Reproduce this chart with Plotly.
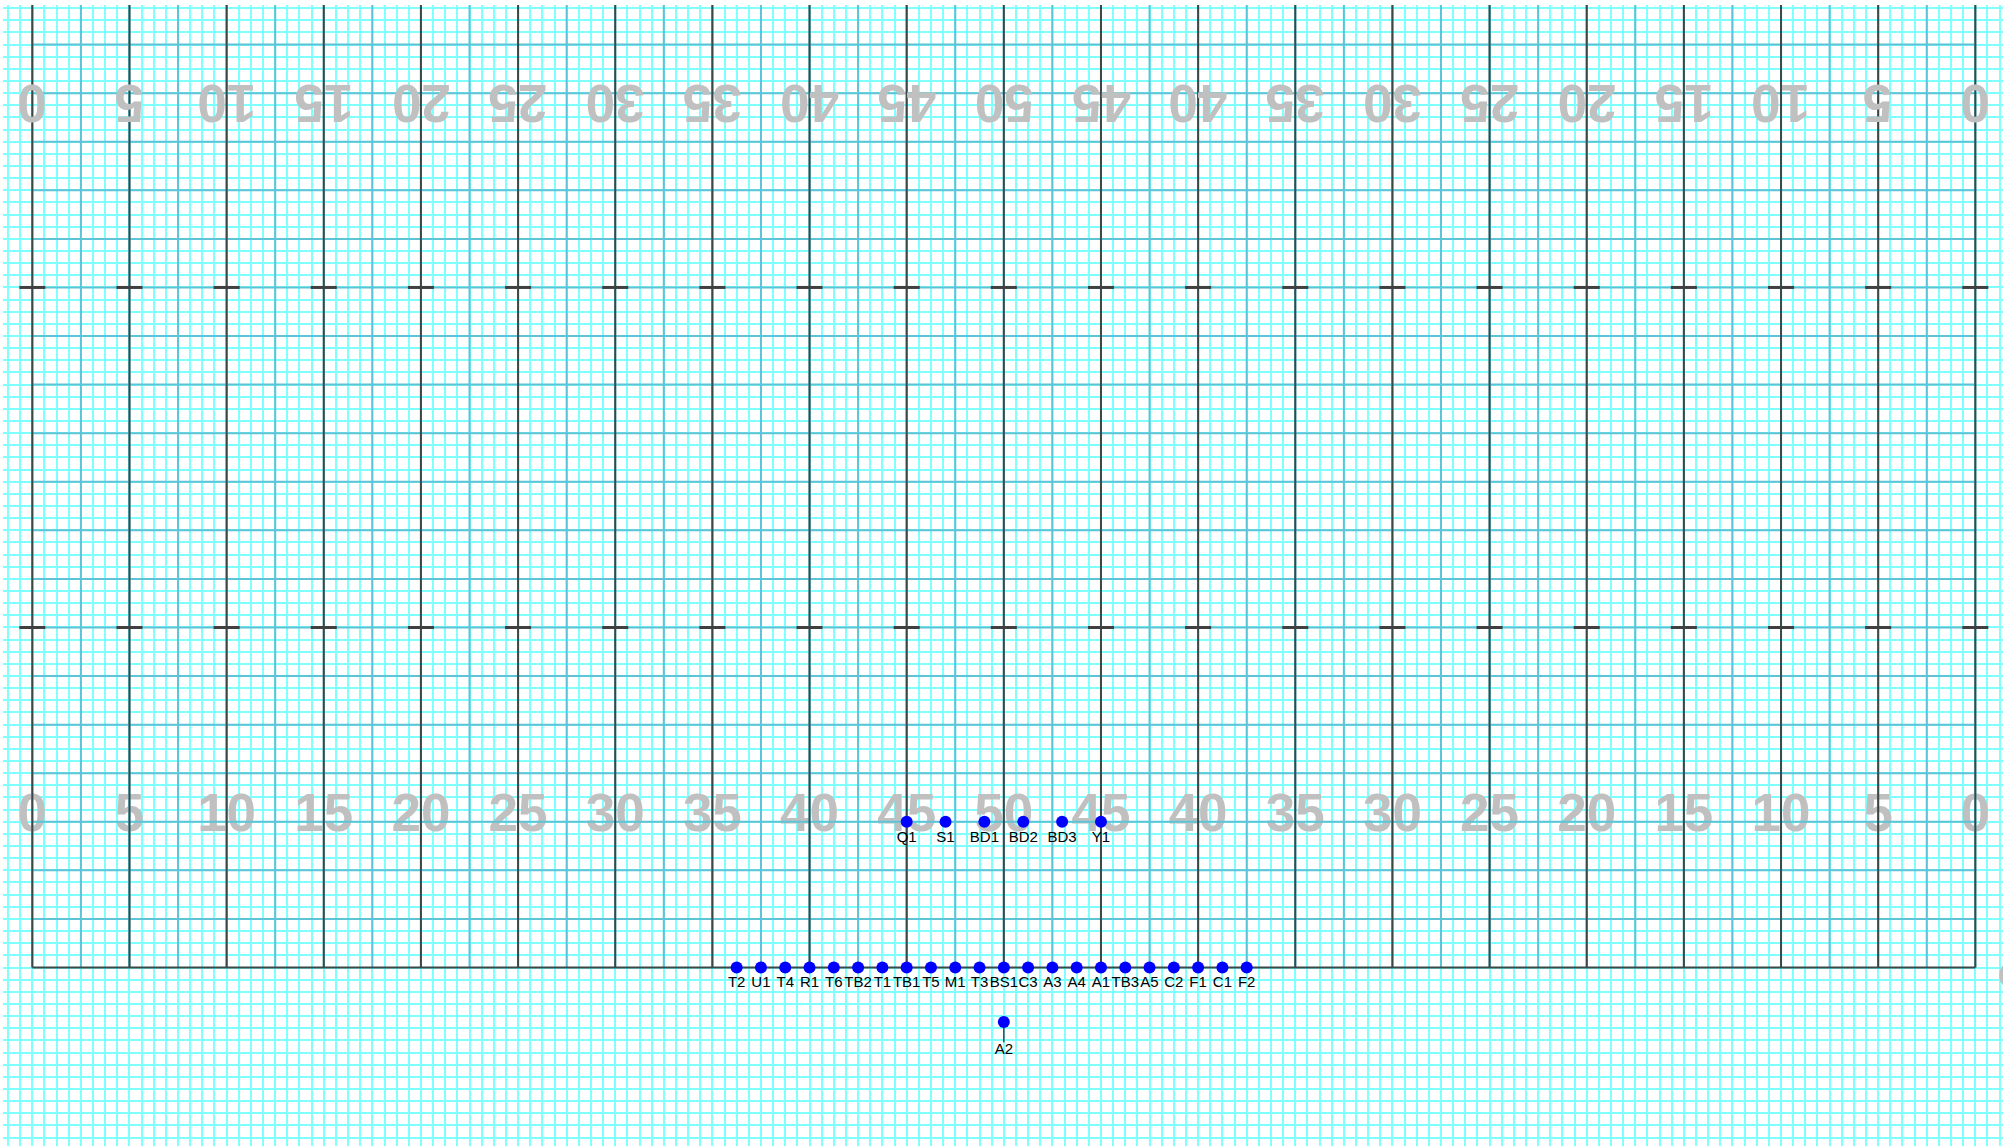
import plotly.graph_objects as go

# ---------------- data ----------------
yard_line_x = [0, 5, 10, 15, 20, 25, 30, 35, 40, 45, 50, 55, 60, 65, 70, 75, 80, 85, 90, 95, 100]
yard_numbers = ["0", "5", "10", "15", "20", "25", "30", "35", "40", "45", "50",
                "45", "40", "35", "30", "25", "20", "15", "10", "5", "0"]
hash_y = [17.5, 35.0]

player_labels = ["T2", "U1", "T4", "R1", "T6", "TB2", "T1", "TB1", "T5", "M1", "T3",
                 "BS1", "C3", "A3", "A4", "A1", "TB3", "A5", "C2", "F1", "C1", "F2",
                 "Q1", "S1", "BD1", "BD2", "BD3", "Y1", "A2"]
player_x = [36.25, 37.5, 38.75, 40, 41.25, 42.5, 43.75, 45, 46.25, 47.5, 48.75,
            50, 51.25, 52.5, 53.75, 55, 56.25, 57.5, 58.75, 60, 61.25, 62.5,
            45, 47, 49, 51, 53, 55, 50]
player_y = [0, 0, 0, 0, 0, 0, 0, 0, 0, 0, 0,
            0, 0, 0, 0, 0, 0, 0, 0, 0, 0, 0,
            7.5, 7.5, 7.5, 7.5, 7.5, 7.5, -2.8]

# short stub below A2 (its label hangs from the stub end), and off-field ball
stub_owner = "A2"
stub_x = [50, 50]
stub_y = [-2.8, -3.85]
ball_x = [102.0]
ball_y = [-0.4]

# ---------------- geometry / style ----------------
FIELD_LEN = 100
FIELD_W = 52.5
NUM_Y_BOTTOM = 7.7
NUM_Y_TOP = 44.5
HASH_HALF = 0.67
GRID_MAJOR = 2.5
GRID_MINOR = 0.625

CYAN = "#80ffff"
BLUE = "#5cc4d6"
DARK = "#3a4848"
NUM_GREY = "#c0c0c0"
FONT = "Arial, Liberation Sans, sans-serif"
NUM_SIZE = 53

fig = go.Figure()

# numbers at the bottom (upright) drawn under the field lines
fig.add_trace(go.Scatter(
    x=yard_line_x, y=[NUM_Y_BOTTOM] * len(yard_line_x), mode="text",
    text=yard_numbers, textposition="middle center",
    textfont=dict(family=FONT, size=NUM_SIZE, color=NUM_GREY, weight="bold"),
    hoverinfo="skip", showlegend=False))

# blue field grid
gx, gy = [], []
n_major_x = int(FIELD_LEN / GRID_MAJOR)
for i in range(n_major_x + 1):
    v = i * GRID_MAJOR
    gx += [v, v, None]
    gy += [0, FIELD_W, None]
n_major_y = int(FIELD_W / GRID_MAJOR)
for j in range(1, n_major_y + 1):
    v = j * GRID_MAJOR
    gx += [0, FIELD_LEN, None]
    gy += [v, v, None]
fig.add_trace(go.Scatter(x=gx, y=gy, mode="lines",
                         line=dict(color=BLUE, width=2),
                         hoverinfo="skip", showlegend=False))

# yard lines and sidelines
lx, ly = [], []
for v in yard_line_x:
    lx += [v, v, None]
    ly += [0, FIELD_W, None]
lx += [0, FIELD_LEN, None, 0, FIELD_LEN]
ly += [0, 0, None, FIELD_W, FIELD_W]
fig.add_trace(go.Scatter(x=lx, y=ly, mode="lines",
                         line=dict(color=DARK, width=2),
                         hoverinfo="skip", showlegend=False))

# hash marks
hx, hy = [], []
for h in hash_y:
    for v in yard_line_x:
        hx += [v - HASH_HALF, v + HASH_HALF, None]
        hy += [h, h, None]
fig.add_trace(go.Scatter(x=hx, y=hy, mode="lines",
                         line=dict(color="#404040", width=3),
                         hoverinfo="skip", showlegend=False))

# ball (clipped at the right edge)
fig.add_trace(go.Scatter(x=ball_x, y=ball_y, mode="markers",
                         marker=dict(color=NUM_GREY, size=30),
                         hoverinfo="skip", showlegend=False))

# stub below A2 carrying its label
fig.add_trace(go.Scatter(x=stub_x, y=stub_y, mode="lines+text",
                         text=["", stub_owner], textposition="bottom center",
                         textfont=dict(family=FONT, size=15, color="black"),
                         line=dict(color=DARK, width=1.5),
                         hoverinfo="skip", showlegend=False))

# players
fig.add_trace(go.Scatter(
    x=player_x, y=player_y, mode="markers+text",
    text=["" if lbl == stub_owner else lbl for lbl in player_labels],
    hovertext=player_labels, hoverinfo="text",
    textposition="bottom center",
    marker=dict(color="#0000ff", size=12),
    textfont=dict(family=FONT, size=15, color="black"),
    showlegend=False))

# upside-down numbers at the top
for xv, label in zip(yard_line_x, yard_numbers):
    fig.add_annotation(x=xv, y=NUM_Y_TOP, text=label, showarrow=False,
                       textangle=180, xanchor="center", yanchor="middle",
                       font=dict(family=FONT, size=NUM_SIZE, color=NUM_GREY, weight="bold"))

PX = 19.43
x0 = -(32.33 - 3) / PX
x1 = x0 + 2000 / PX
y1 = (967.5 - 5) / PX
y0 = y1 - 1141 / PX

fig.update_layout(
    width=2011, height=1146,
    margin=dict(l=3, r=8, t=5, b=0),
    paper_bgcolor="white", plot_bgcolor="white",
    xaxis=dict(range=[x0, x1], tick0=0, dtick=GRID_MINOR, showgrid=True,
               gridcolor=CYAN, gridwidth=1.5, zeroline=False, showticklabels=False,
               ticks="", showline=False),
    yaxis=dict(range=[y0, y1], tick0=0, dtick=GRID_MINOR, showgrid=True,
               gridcolor=CYAN, gridwidth=1.5, zeroline=False, showticklabels=False,
               ticks="", showline=False),
    showlegend=False,
)

fig.write_html("out.html",
               config={"displayModeBar": False},
               post_script="document.body.style.margin='0';document.body.style.overflow='hidden';")
